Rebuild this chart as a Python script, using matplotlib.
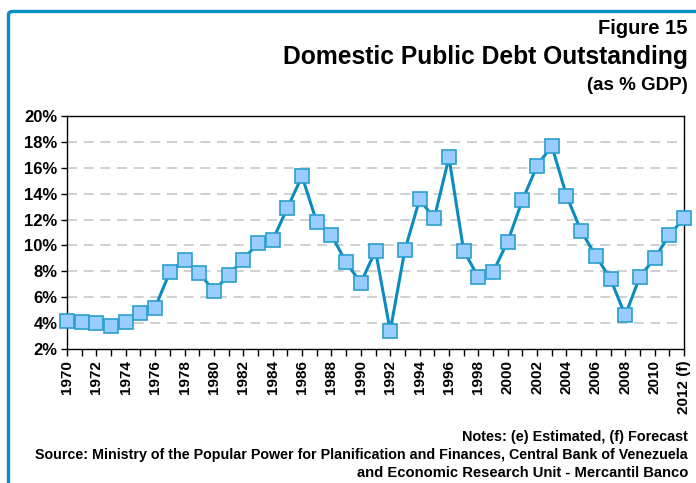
import matplotlib
matplotlib.use("Agg")
import matplotlib.pyplot as plt
from matplotlib.patches import FancyBboxPatch

plt.rcParams['font.family'] = ['Liberation Sans', 'DejaVu Sans']

years = list(range(1970, 2013))
debt_pct = [4.2, 4.1, 4.0, 3.75, 4.1, 4.8, 5.2, 7.95, 8.9, 7.9,
            6.45, 7.75, 8.9, 10.2, 10.4, 12.9, 15.35, 11.8, 10.8, 8.7,
            7.1, 9.6, 3.4, 9.65, 13.55, 12.1, 16.8, 9.6, 7.55, 7.95,
            10.3, 13.5, 16.15, 17.7, 13.85, 11.1, 9.2, 7.4, 4.6, 7.6,
            9.0, 10.8, 12.1]
label_years = list(range(1970, 2013, 2))
x_labels = [str(y) for y in label_years[:-1]] + ["2012 (f)"]
y_ticks = list(range(2, 21, 2))
y_labels = [f"{v}%" for v in y_ticks]

title_fig = "Figure 15"
title_main = "Domestic Public Debt Outstanding"
title_sub = "(as % GDP)"
notes = "Notes: (e) Estimated, (f) Forecast"
source1 = "Source: Ministry of the Popular Power for Planification and Finances, Central Bank of Venezuela"
source2 = "and Economic Research Unit - Mercantil Banco"

W, H = 696, 483
fig = plt.figure(figsize=(W / 100, H / 100), dpi=100)

# blue frame (top and left edges visible, rounded corner)
border = FancyBboxPatch((8.5 / W, -0.2), 1.2, (H - 11.5) / H + 0.2,
                        boxstyle="round,pad=0,rounding_size=0.006",
                        transform=fig.transFigure, fill=False,
                        edgecolor="#0a8fc4", linewidth=2.4, clip_on=False)
fig.patches.append(border)

ax = fig.add_axes([67 / W, (H - 349) / H, 617 / W, 233 / H])
ax.plot(years, debt_pct, color="#0a8cbf", linewidth=2.2, marker="s",
        markersize=10, markerfacecolor="#99ccff", markeredgecolor="#2a9fd0",
        markeredgewidth=1.2, zorder=3, clip_on=False)

ax.set_xlim(1970, 2012)
ax.set_ylim(2, 20)
ax.set_yticks(y_ticks)
ax.set_yticklabels(y_labels, fontsize=12, fontweight="bold")
ax.set_xticks(label_years)
ax.set_xticklabels(x_labels, rotation=90, fontsize=11, fontweight="bold")
ax.set_xticks(years, minor=True)
ax.tick_params(axis="x", which="both", direction="out", length=5, width=1, color="black", pad=3)
ax.tick_params(axis="y", direction="out", length=4, width=1, pad=3)

for v in y_ticks[1:-1]:
    ax.axhline(v, color="#c8c8c8", linewidth=1.2, linestyle=(0, (6, 4)), zorder=1)

for s in ax.spines.values():
    s.set_color("black")
    s.set_linewidth(1.0)

fig.text(688 / W, 1 - 29 / H, title_fig, ha="right", va="center", fontsize=14.5, fontweight="bold")
fig.text(688 / W, 1 - 57 / H, title_main, ha="right", va="center", fontsize=17.7, fontweight="bold")
fig.text(688 / W, 1 - 85 / H, title_sub, ha="right", va="center", fontsize=13.5, fontweight="bold")
fig.text(688 / W, 1 - 437 / H, notes, ha="right", va="center", fontsize=10.4, fontweight="bold")
fig.text(688 / W, 1 - 455 / H, source1, ha="right", va="center", fontsize=10.3, fontweight="bold")
fig.text(688 / W, 1 - 473 / H, source2, ha="right", va="center", fontsize=10.6, fontweight="bold")

fig.savefig("out.png", dpi=100)
